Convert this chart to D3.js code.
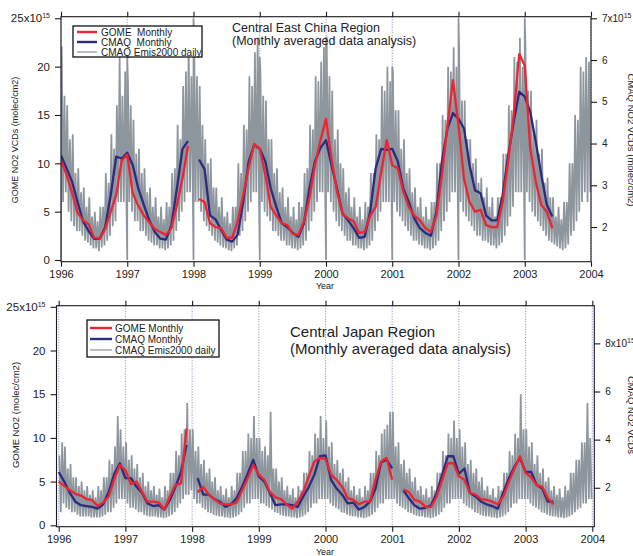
<!DOCTYPE html>
<html>
<head>
<meta charset="utf-8">
<script src="https://cdn.jsdelivr.net/npm/d3@7"></script>
<style>
body { margin: 0; background: #fff; }
svg { display: block; font-family: "Liberation Sans", Arial, sans-serif; }
</style>
</head>
<body>
<svg id="chart" width="633" height="556"></svg>
<script>
// ---- data (units 1e15 molec/cm2) ----
const yearTicks = [1996, 1997, 1998, 1999, 2000, 2001, 2002, 2003, 2004];
const leftTicks = [0, 5, 10, 15, 20, 25];
const chinaRightTicks = [2, 3, 4, 5, 6, 7];
const japanRightTicks = [2, 4, 6, 8];
const legendLabelsChina = ["GOME  Monthly", "CMAQ  Monthly", "CMAQ Emis2000 daily"];
const legendLabelsJapan = ["GOME Monthly", "CMAQ Monthly", "CMAQ Emis2000 daily"];

// monthly values Jan 1996 .. Dec 2003 (null = no data)
const chinaGome = [
  10.3, 8.8, 7.0, 4.9, 4.1, 3.7, 2.3, 2.2, 3.2, 5.0, 6.7, 10.3,
  10.9, 6.9, 5.6, 4.6, 3.9, 3.2, 2.9, 2.6, 3.3, 5.7, 8.4, 11.8,
  null, 6.3, 6.0, 3.8, 3.4, 3.3, 2.3, 2.3, 4.0, 6.7, 9.6, 12.0,
  11.5, 8.8, 5.5, 4.6, 3.8, 3.6, 2.7, 2.6, 4.0, 6.4, 9.8, 12.4,
  14.6, 10.5, 7.1, 4.8, 4.3, 4.0, 2.8, 2.9, 4.6, 5.5, 9.1, 12.4,
  9.8, 9.5, 7.1, 5.5, 4.6, 4.1, 3.3, 2.9, 4.6, 8.8, 13.9, 18.6,
  13.9, 8.4, 6.0, 5.0, 5.2, 3.6, 3.4, 3.4, 6.0, 10.2, 15.0, 21.3,
  20.1, 11.5, 8.1, 5.7, 5.0, 3.3, null, null, null, null, null, null
];
const chinaCmaq = [
  10.8, 9.5, 8.1, 6.0, 4.0, 3.0, 2.2, 2.2, 3.4, 6.7, 10.7, 10.5,
  11.1, 9.8, 7.4, 5.7, 4.1, 2.9, 2.2, 2.1, 3.6, 7.4, 11.5, 12.3,
  null, 10.4, 9.4, 4.6, 4.2, 3.1, 2.1, 1.9, 2.6, 6.0, 10.2, 11.9,
  11.5, 10.2, 7.4, 5.5, 3.8, 3.4, 2.8, 2.4, 3.8, 7.4, 10.2, 11.6,
  12.4, 9.8, 7.4, 4.8, 4.1, 3.3, 2.3, 2.4, 5.0, 9.5, 11.5, 11.4,
  11.5, 10.2, 7.4, 6.0, 4.3, 3.3, 2.8, 2.5, 5.0, 10.2, 13.6, 15.2,
  14.6, 13.6, 9.8, 7.2, 6.9, 4.6, 4.1, 4.1, 6.7, 10.8, 14.3, 17.4,
  16.9, 15.3, 12.2, 8.8, 5.7, 4.5, null, null, null, null, null, null
];
const japanGome = [
  5.0, 4.5, 4.0, 3.6, 3.4, 3.0, 2.9, 2.2, 2.6, 3.3, 5.3, 6.9,
  6.3, 4.7, 5.0, 3.8, 2.7, 2.7, 2.6, 1.8, 3.3, 4.6, 4.8, 11.1,
  null, 3.8, 4.4, 3.5, 3.0, 2.5, 2.4, 2.4, 2.6, 4.0, 5.4, 6.9,
  5.8, 5.2, 3.8, 3.2, 3.0, 2.4, 1.9, 2.7, 3.8, 5.6, 7.3, 7.7,
  7.6, 5.8, 5.2, 4.4, 3.1, 2.9, 2.4, 2.7, 2.7, 5.2, 7.3, 7.7,
  5.2, null, 4.1, 3.8, 2.9, 2.7, 2.1, 2.1, 3.3, 5.2, 7.1, 7.1,
  5.6, 5.2, 3.7, 3.5, 3.0, 2.9, 2.7, 2.4, 3.3, 5.0, 6.5, 7.9,
  6.0, 5.5, 4.6, 4.4, 3.1, 2.4, null, null, null, null, null, null
];
const japanCmaq = [
  6.1, 5.0, 3.7, 2.7, 2.3, 2.2, 2.1, 1.9, 2.4, 3.8, 5.9, 7.1,
  5.4, 5.4, 4.4, 3.7, 2.5, 2.2, 2.3, 1.8, 2.9, 4.4, 6.1, 9.2,
  null, 5.4, 3.5, 3.5, 3.0, 2.7, 2.1, 2.4, 3.1, 4.4, 5.9, 7.5,
  5.6, 5.0, 3.7, 2.3, 2.4, 2.4, 2.3, 2.1, 3.3, 4.4, 5.8, 7.9,
  8.0, 5.2, 4.2, 3.5, 2.5, 2.6, 1.8, 2.1, 2.7, 4.2, 7.2, 7.5,
  6.5, null, 4.0, 3.1, 2.3, 1.9, 2.0, 2.3, 3.7, 5.8, 7.9, 7.9,
  5.9, 6.5, 3.7, 3.3, 2.7, 2.4, 2.2, 1.9, 3.8, 5.4, 6.7, 7.7,
  6.1, 6.1, 4.6, 4.2, 2.7, 2.7, null, null, null, null, null, null
];

// daily model: upper / lower swings, two per month (half-month steps)
const chinaDailyHi = [
  22, 17, 16, 12.5, 13, 9, 9.5, 7, 7.5, 5.5, 6.5, 4.5, 5, 4, 5.5, 5.5, 9, 8, 13, 11.5, 16, 21, 17, 19.5,
  18.5, 16, 14.5, 11, 11.5, 9, 9.5, 7, 7.5, 5.5, 6.5, 4.5, 5.5, 4.2, 6, 5.5, 9, 9.5, 14, 12.5, 18, 19.5, 22, 19,
  23, 19, 18, 14, 12.5, 10, 10.5, 7.5, 7.5, 5.5, 6.5, 4.5, 5, 3.8, 5.5, 5.5, 10, 9, 14, 13.5, 19, 18, 21.5, 23,
  19.5, 17, 16.5, 12.5, 12.5, 9, 9.5, 7, 7.5, 5.5, 6.5, 4.5, 5.5, 4.2, 6, 5.5, 9, 9.5, 14, 13.5, 19, 18.5, 20.5, 22,
  23, 19, 17.5, 12.5, 13.5, 10, 9.5, 7, 7.5, 5.5, 6.5, 4.5, 5.5, 4.2, 6, 5.5, 9, 9, 13, 12.5, 18, 17.5, 20, 18.5,
  19.5, 15.5, 15.5, 11.5, 12.5, 9, 9.5, 7, 7.5, 5.5, 6.5, 4.5, 5.5, 4.2, 6, 6, 10, 10, 15, 14.5, 20, 19.5, 22, 20,
  21.5, 16.5, 16.5, 12.5, 12.5, 10, 10.5, 8, 8.5, 6.5, 7.5, 5.5, 6.5, 4.5, 6.5, 6.5, 11, 11, 16, 15.5, 21, 20.5, 23, 20,
  22, 17.5, 17.5, 13.5, 14.5, 11, 11.5, 8, 8.5, 6.5, 6.5, 4.5, 5.5, 4.2, 6, 6, 10, 10, 15, 14.5, 20, 19.5, 21, 20.5
];
const chinaDailyLo = [
  6, 7, 5, 4, 3.5, 3, 3, 2.5, 2, 1.8, 1.5, 1.2, 1.2, 0.9, 1.3, 1.5, 2, 2.5, 3.5, 4, 6, 6, 6, 5,
  6, 5, 4, 4, 3, 3, 2.5, 2, 1.8, 1.5, 1.5, 1.2, 1.2, 1, 1.2, 1.5, 2, 3, 4, 5, 6, 7, 7, 7,
  6, 6, 5, 4, 3.5, 3, 2.5, 2, 1.8, 1.5, 1.3, 1.2, 1, 0.9, 1.2, 1.5, 2.5, 3, 4, 5, 6, 7, 7, 6,
  6, 5, 4.5, 4, 3, 3, 2.5, 2, 2, 1.5, 1.5, 1.2, 1.2, 1, 1.2, 1.5, 2, 3, 4, 5, 6, 7, 7, 6,
  7, 6, 5, 4, 3.5, 3, 2.5, 2, 2, 1.5, 1.5, 1.2, 1.2, 1, 1.2, 1.5, 2, 3, 4, 5, 6, 6, 6, 6,
  6, 5, 4.5, 4, 3.5, 3, 2.5, 2, 2, 1.6, 1.5, 1.2, 1.2, 1, 1.2, 1.5, 2, 3, 4, 5, 6, 7, 7, 6,
  6, 5, 4.5, 4, 3.5, 3, 2.5, 2.5, 2, 2, 1.8, 1.5, 1.5, 1.2, 1.5, 1.8, 2.5, 3.5, 4.5, 5.5, 7, 7, 7, 7,
  7, 6, 5, 4.5, 4, 3.5, 3, 2.5, 2, 1.8, 1.6, 1.4, 1.2, 1, 1.2, 1.6, 2.5, 3, 4, 5, 6, 7, 6, 7
];
// the daily curve dips to zero and back up at each new year (top panel)
const chinaYearSpike = [22, 21, 25, 21, 23, 20, 25, 25];

const japanDailyHi = [
  8, 9.5, 9, 6.5, 7, 5.5, 5.5, 4.5, 5, 4, 4.5, 3.5, 4, 3.2, 4.5, 4, 5.5, 5.5, 7.5, 7, 9, 12.5, 11, 9,
  9.5, 7.5, 8, 6.5, 7, 5.5, 6, 4.5, 5, 4, 4.5, 3.5, 4.2, 3.2, 4.5, 4, 6, 6, 8.5, 8, 10.5, 11, 14, 11,
  11, 8.5, 9, 7, 7.5, 6, 6.5, 5, 5.5, 4, 4.5, 3.5, 4.2, 3.2, 4.5, 4, 6, 6, 8.5, 8.5, 10.5, 10, 12.5, 10,
  10, 8.5, 9, 8, 13, 6.5, 6.5, 5, 5.5, 4, 4.5, 3.5, 4.2, 3.2, 4.5, 4, 6, 6, 8.5, 8, 10.5, 10, 12.5, 10,
  12, 9, 9.5, 7, 7.5, 6, 6.5, 5, 5.5, 4, 4.5, 3.5, 4.2, 3.2, 4.5, 4, 6, 6, 8.5, 8, 10.5, 11, 11.5, 13,
  13, 9, 9.5, 7, 7.5, 6, 6.5, 5, 5.5, 4, 4.5, 3.5, 4.2, 3.2, 4.5, 4, 6, 6, 8.5, 8, 10.5, 10, 12, 10,
  11, 9, 9.5, 7, 7.5, 6, 6.5, 5, 5.5, 4, 4.5, 3.5, 4.2, 3.2, 4.5, 4, 6, 6, 8.5, 8, 10.5, 10, 15, 11,
  11, 9, 9.5, 7, 8, 6, 6.5, 5, 5.5, 4, 4.5, 3.5, 4.2, 3.2, 4.5, 4, 6, 6, 7.5, 7.5, 9.5, 9.5, 14, 10
];
const japanDailyLo = [
  1.5, 2.5, 2, 1.8, 1.5, 1.5, 1.2, 1, 1, 1, 1, 0.9, 0.9, 0.9, 0.9, 1, 1.2, 1.5, 1.5, 2, 2.5, 3, 3, 3,
  2.5, 2, 2, 1.8, 1.5, 1.5, 1.2, 1.1, 1, 1, 1, 0.9, 0.9, 0.8, 0.9, 1, 1.2, 1.5, 2, 2.5, 3, 3.5, 3.5, 4,
  3, 2.5, 2.5, 2, 1.8, 1.5, 1.4, 1.2, 1.1, 1, 1, 0.9, 0.9, 0.8, 0.9, 1, 1.2, 1.5, 2, 2.5, 2.5, 3, 3, 3,
  2.5, 2.5, 2.2, 2, 1.8, 1.5, 1.4, 1.2, 1.1, 1, 1, 0.9, 0.9, 0.8, 0.9, 1, 1.2, 1.5, 2, 2.5, 2.5, 3, 3, 3,
  3, 2.5, 2.2, 2, 1.8, 1.5, 1.4, 1.2, 1.1, 1, 1, 0.9, 0.9, 0.8, 0.9, 1, 1.2, 1.5, 2, 2.5, 2.5, 3, 3, 3,
  3, 2.5, 2.2, 2, 1.8, 1.5, 1.4, 1.2, 1.1, 1, 1, 0.9, 0.9, 0.8, 0.9, 1, 1.2, 1.5, 2, 2.5, 2.5, 3, 3, 3,
  3, 2.5, 2.2, 2, 1.8, 1.5, 1.4, 1.2, 1.1, 1, 1, 0.9, 0.9, 0.8, 0.9, 1, 1.2, 1.5, 2, 2.5, 2.5, 3, 3, 3,
  3, 2.5, 2.2, 2, 1.8, 1.5, 1.4, 1.2, 1.1, 1, 1, 0.9, 0.9, 0.8, 0.9, 1, 1.2, 1.5, 1.8, 2, 2.5, 2.5, 3, 3
];

const RED = "#ee2430";
const BLUE = "#2b2b80";
const GREY = "#8d959d";

const svg = d3.select("#chart");

function dailyPoints(hi, lo, spikes) {
  let pts = [];
  hi.forEach((h, i) => {
    if (spikes && i % 24 === 0) {
      let yr = 1996 + i / 24;
      pts.push([yr, 0], [yr, spikes[i / 24]]);
    }
    pts.push([1996 + (i + 0.25) / 24, h]);
    pts.push([1996 + (i + 0.75) / 24, lo[i]]);
  });
  return pts;
}

function drawPanel(p) {
  let x = d3.scaleLinear().domain([1996, 2004]).range([p.x0, p.x1]);
  let y = d3.scaleLinear().domain([0, 25]).range([p.yB, p.yT]);
  let yR = d3.scaleLinear().domain(p.rightDomain).range([p.yB, p.yT]);

  let g = svg.append("g");

  g.append("clipPath").attr("id", p.id + "-clip")
    .append("rect")
      .attr("x", p.fL).attr("y", p.fT)
      .attr("width", p.fR - p.fL).attr("height", p.fB - p.fT);

  // dotted year lines
  g.selectAll(".grid")
    .data(yearTicks)
    .enter()
    .append("line")
      .attr("x1", d => x(d)).attr("x2", d => x(d))
      .attr("y1", p.fT).attr("y2", p.fB)
      .attr("stroke", "#5a6ad6")
      .attr("stroke-width", 0.8)
      .attr("stroke-dasharray", "1,1.6");

  let plot = g.append("g").attr("clip-path", `url(#${p.id}-clip)`);

  plot.append("path")
    .datum(dailyPoints(p.hi, p.lo, p.spikes))
    .attr("fill", "none")
    .attr("stroke", GREY)
    .attr("stroke-width", 1.75)
    .attr("stroke-linejoin", "miter")
    .attr("stroke-miterlimit", 2)
    .attr("d", d3.line().x(d => x(d[0])).y(d => y(d[1])));

  let monthLine = d3.line()
    .defined(d => d != null)
    .x((d, i) => x(1996 + i / 12))
    .y(d => y(d));

  [[p.cmaq, BLUE], [p.gome, RED]].forEach(s => {
    plot.append("path")
      .datum(s[0])
      .attr("fill", "none")
      .attr("stroke", s[1])
      .attr("stroke-width", 2.3)
      .attr("stroke-linejoin", "round")
      .attr("d", monthLine);
  });

  // frame
  g.append("rect")
    .attr("x", p.fL).attr("y", p.fT)
    .attr("width", p.fR - p.fL).attr("height", p.fB - p.fT)
    .attr("fill", "none")
    .attr("stroke", "#1a1a1a")
    .attr("stroke-width", 1.1);

  let styleAxis = (sel, size) => {
    sel.select(".domain").remove();
    sel.attr("font-family", "'Liberation Sans', Arial, sans-serif")
      .attr("font-size", size);
    sel.selectAll(".tick line").attr("stroke", "#1a1a1a").attr("stroke-width", 1.1);
    sel.selectAll(".tick text").attr("fill", "#222");
  };

  g.append("g")
    .attr("transform", `translate(0,${p.fB})`)
    .call(d3.axisBottom(x).tickValues(yearTicks).tickSize(5).tickPadding(4).tickFormat(d3.format("d")))
    .call(styleAxis, 11);

  g.append("g")
    .attr("transform", `translate(0,${p.fT})`)
    .call(d3.axisTop(x).tickValues(yearTicks).tickSize(5).tickFormat(""))
    .call(styleAxis, 11);

  let left = g.append("g")
    .attr("transform", `translate(${p.fL},0)`)
    .call(d3.axisLeft(y).tickValues(leftTicks).tickSize(6).tickPadding(5).tickFormat(d3.format("d")))
    .call(styleAxis, 11.5);
  left.selectAll(".tick text").filter(d => d === 25)
    .text("25x10")
    .append("tspan").attr("dy", -4).attr("font-size", 7).text("15");

  let right = g.append("g")
    .attr("transform", `translate(${p.fR},0)`)
    .call(d3.axisRight(yR).tickValues(p.rightTicks).tickSize(6).tickPadding(5).tickFormat(d3.format("d")))
    .call(styleAxis, 10);
  let top = p.rightTicks[p.rightTicks.length - 1];
  right.selectAll(".tick text").filter(d => d === top)
    .text(top + "x10")
    .append("tspan").attr("dy", -4).attr("font-size", 7).text("15");

  // axis titles
  g.append("text")
    .attr("transform", `translate(${p.yTitleX},${p.yTitleY}) rotate(-90)`)
    .attr("text-anchor", "middle")
    .attr("font-size", p.yTitleSize)
    .attr("fill", "#222")
    .text(p.yTitle);

  // right title sits on the page edge, as in the original
  g.append("text")
    .attr("transform", `translate(628,${p.yTitleY}) rotate(90)`)
    .attr("text-anchor", "middle")
    .attr("font-size", 9.5)
    .attr("fill", "#222")
    .text(p.rTitle);

  g.append("text")
    .attr("x", 325).attr("y", p.yearY)
    .attr("text-anchor", "middle")
    .attr("font-size", 9)
    .attr("fill", "#222")
    .text("Year");

  // region title
  g.selectAll(".title")
    .data(p.title)
    .enter()
    .append("text")
      .attr("x", p.titleX)
      .attr("y", (d, i) => p.titleY + i * p.titleGap)
      .attr("font-size", p.titleSize)
      .attr("fill", "#222")
      .text(d => d);

  // legend
  let lg = p.legend;
  g.append("rect")
    .attr("x", lg.x).attr("y", lg.y)
    .attr("width", lg.w).attr("height", lg.h)
    .attr("fill", "#fff")
    .attr("stroke", "#111")
    .attr("stroke-width", 1.3);
  let items = g.selectAll(".leg")
    .data(p.legendLabels)
    .enter()
    .append("g")
      .attr("transform", (d, i) => `translate(0,${lg.rows[i]})`);
  items.append("line")
    .attr("x1", lg.l0).attr("x2", lg.l1)
    .attr("stroke", (d, i) => [RED, BLUE, "#a9afb5"][i])
    .attr("stroke-width", (d, i) => i < 2 ? 2.4 : 1.6);
  items.append("text")
    .attr("x", lg.tx).attr("y", 3.6)
    .attr("font-size", 10)
    .attr("fill", "#222")
    .style("white-space", "pre")
    .text(d => d);
}

drawPanel({
  id: "china",
  x0: 61, x1: 591, fL: 61, fR: 591, fT: 16.7, fB: 261.7, yB: 260, yT: 18.3,
  rightDomain: [1.21, 7], rightTicks: chinaRightTicks,
  gome: chinaGome, cmaq: chinaCmaq, hi: chinaDailyHi, lo: chinaDailyLo, spikes: chinaYearSpike,
  yTitle: "GOME NO2 VCDs (molec/cm2)", yTitleX: 18, yTitleY: 140, yTitleSize: 9,
  rTitle: "CMAQ NO2 VCDs (molec/cm2)", yearY: 289,
  title: ["Central East China Region", "(Monthly averaged data analysis)"],
  titleX: 232, titleY: 32, titleGap: 12.5, titleSize: 12.5,
  legendLabels: legendLabelsChina,
  legend: { x: 73, y: 26, w: 129, h: 31, l0: 77, l1: 97, tx: 101, rows: [32, 42, 52] }
});

drawPanel({
  id: "japan",
  x0: 58.7, x1: 592.3, fL: 56.5, fR: 594.3, fT: 305.7, fB: 526.7, yB: 525.3, yT: 306.8,
  rightDomain: [0.44, 9.52], rightTicks: japanRightTicks,
  gome: japanGome, cmaq: japanCmaq, hi: japanDailyHi, lo: japanDailyLo, spikes: null,
  yTitle: "GOME NO2 (molec/cm2)", yTitleX: 19, yTitleY: 415, yTitleSize: 9.5,
  rTitle: "CMAQ NO2 VCDs", yearY: 555,
  title: ["Central Japan Region", "(Monthly averaged data analysis)"],
  titleX: 290, titleY: 337, titleGap: 17, titleSize: 15,
  legendLabels: legendLabelsJapan,
  legend: { x: 87, y: 320, w: 132, h: 37, l0: 90, l1: 112, tx: 115, rows: [328, 339, 350] }
});
</script>
</body>
</html>
